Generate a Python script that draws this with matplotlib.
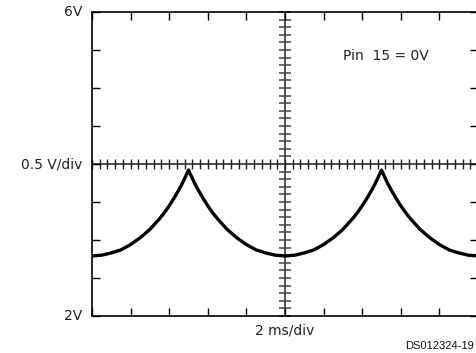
import numpy as np
import matplotlib
matplotlib.use("Agg")
import matplotlib.pyplot as plt

# waveform (time in ms, voltage in V)
time_ms = [0, 0.5, 1, 1.5, 2, 2.5, 3, 3.5, 3.75, 4, 4.25, 4.5, 4.65, 4.8, 5,
           5.2, 5.35, 5.5, 5.75, 6, 6.25, 6.5, 7, 7.5, 8, 8.5, 9, 9.5, 10,
           10.5, 11, 11.5, 12, 12.5, 13, 13.5, 13.75, 14, 14.25, 14.5, 14.65, 14.8, 15,
           15.2, 15.35, 15.5, 15.75, 16, 16.25, 16.5, 17, 17.5, 18, 18.5, 19, 19.5, 20]
volts = [2.79, 2.80, 2.83, 2.87, 2.94, 3.03, 3.14, 3.28, 3.36, 3.45, 3.55, 3.66, 3.73, 3.81, 3.92,
         3.81, 3.73, 3.66, 3.55, 3.45, 3.36, 3.28, 3.14, 3.03, 2.94, 2.87, 2.83, 2.80, 2.79,
         2.80, 2.83, 2.87, 2.94, 3.03, 3.14, 3.28, 3.36, 3.45, 3.55, 3.66, 3.73, 3.81, 3.92,
         3.81, 3.73, 3.66, 3.55, 3.45, 3.36, 3.28, 3.14, 3.03, 2.94, 2.87, 2.83, 2.80, 2.79]

y_labels = ["6V", "0.5 V/div", "2V"]
y_label_pos = [6, 4, 2]
x_label = "2 ms/div"
note = "Pin  15 = 0V"
fig_id = "DS012324-19"

fig = plt.figure(figsize=(4.76, 3.53), dpi=100)
ax = fig.add_axes([92 / 476, 37 / 353, 386 / 476, 304 / 353])
ax.set_xlim(0, 20)
ax.set_ylim(2, 6)

for s in ax.spines.values():
    s.set_linewidth(1.2)
    s.set_color("black")

ax.set_xticks(np.arange(0, 20.01, 2))
ax.set_yticks(np.arange(2, 6.01, 0.5))
ax.tick_params(direction="in", length=6, width=1.0, top=True, right=True,
               labelbottom=False, labelleft=False)

# center graticule with minor divisions
ax.axvline(10, color="#444444", lw=1.3, zorder=1)
ax.axhline(4, color="#222222", lw=1.1, zorder=1)
ax.plot(np.full(41, 10.0), np.arange(2, 6.001, 0.1), ls="none", marker="_",
        markersize=8, mew=1.1, color="#444444", zorder=1, clip_on=False)
ax.plot(np.arange(0, 20.001, 0.4), np.full(51, 4.0), ls="none", marker="|",
        markersize=6.5, mew=1.0, color="#222222", zorder=1, clip_on=False)

ax.plot(time_ms, volts, color="black", lw=2.4, solid_joinstyle="round",
        solid_capstyle="round", zorder=3)

for lab, yv in zip(y_labels, y_label_pos):
    ax.text(-0.026, yv, lab, transform=ax.get_yaxis_transform(),
            ha="right", va="center", fontsize=10, family="DejaVu Sans",
            color="#222222")

fig.text(285 / 476, 1 - 331 / 353, x_label, ha="center", va="center",
         fontsize=10, family="DejaVu Sans", color="#222222")
fig.text(343 / 476, 1 - 56 / 353, note, ha="left", va="center",
         fontsize=10, family="DejaVu Sans", color="#222222")
fig.text(474 / 476, 1 - 346 / 353, fig_id, ha="right", va="center",
         fontsize=8, family="Liberation Sans", color="#111111")

fig.savefig("out.png", dpi=100)
